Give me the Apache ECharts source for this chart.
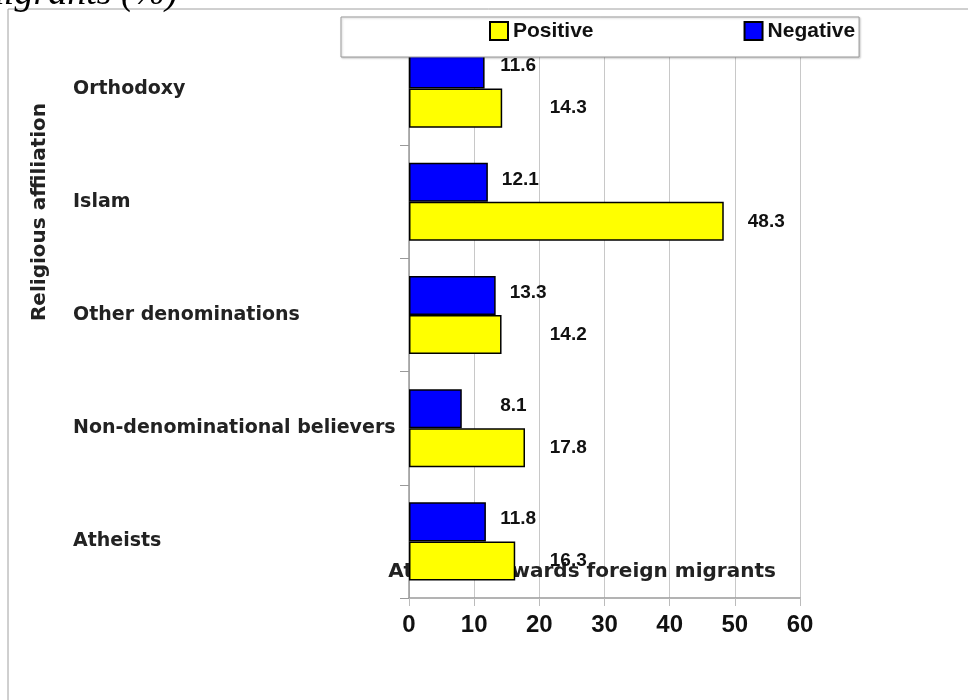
<!DOCTYPE html>
<html>
<head>
    <meta charset="utf-8">
    <title>Religious affiliation</title>
    <script src="https://cdn.jsdelivr.net/npm/echarts@6/dist/echarts.min.js"></script>
    <style>
        html, body { margin: 0; padding: 0; background: #fff; }
    </style>
</head>
<body>
<div id="main" style="width: 968px;height:700px;"></div>
<script type="text/javascript">
    // categories from the axis origin upward (bottom to top in the picture)
    var categories = ['Atheists', 'Non-denominational believers', 'Other denominations', 'Islam', 'Orthodoxy'];
    var positive = [16.3, 17.8, 14.2, 48.3, 14.3];
    var negative = [11.8, 8.1, 13.3, 12.1, 11.6];
    var seriesNames = ['Positive', 'Negative'];
    var xMin = 0, xMax = 60, xStep = 10;

    var sans = '"Liberation Sans", Arial, sans-serif';
    var wide = '"DejaVu Sans", Verdana, sans-serif';

    var myChart = echarts.init(document.getElementById('main'));

    function barLabel(offsetY) {
        return {
            show: true,
            position: 'right',
            offset: [0, offsetY],
            color: '#111',
            fontFamily: sans,
            fontWeight: 'bold',
            fontSize: 19
        };
    }

    var option = {
        animation: false,
        backgroundColor: '#fff',
        grid: {
            left: 409,
            right: 168,
            top: 32,
            bottom: 102
        },
        legend: {
            data: seriesNames,
            left: 341,
            top: 17,
            orient: 'horizontal',
            icon: 'rect',
            itemWidth: 18,
            itemHeight: 18,
            itemGap: 150,
            padding: [3, 4, 15, 148],
            backgroundColor: '#fff',
            borderColor: '#9a9a9a',
            borderWidth: 1,
            shadowColor: 'rgba(0,0,0,0.2)',
            shadowBlur: 2,
            shadowOffsetX: 1,
            shadowOffsetY: 1,
            textStyle: {
                color: '#111',
                fontFamily: sans,
                fontWeight: 'bold',
                fontSize: 21,
                lineHeight: 22
            }
        },
        xAxis: {
            type: 'value',
            min: xMin,
            max: xMax,
            interval: xStep,
            axisLine: { show: true, lineStyle: { color: '#9a9a9a', width: 1.5 } },
            axisTick: { show: true, length: 8, lineStyle: { color: '#bbb' } },
            splitLine: { show: true, lineStyle: { color: '#c8c8c8', width: 1 } },
            axisLabel: {
                margin: 15,
                color: '#111',
                fontFamily: sans,
                fontWeight: 'bold',
                fontSize: 24
            }
        },
        yAxis: {
            type: 'category',
            data: categories,
            axisLine: { show: true, lineStyle: { color: '#9a9a9a', width: 1.5 } },
            axisTick: { show: true, length: 9, lineStyle: { color: '#9a9a9a' } },
            axisLabel: {
                align: 'left',
                margin: 336,
                color: '#222',
                fontFamily: wide,
                fontWeight: 'bold',
                fontSize: 19
            }
        },
        graphic: [
            {
                type: 'rect',
                z: 0,
                shape: { x: 8, y: 9, width: 1200, height: 1000 },
                style: { fill: 'none', stroke: '#a0a0a0', lineWidth: 1 }
            },
            {
                type: 'text',
                z: 1,
                x: 178,
                y: -6,
                style: {
                    text: 'Attitudes towards foreign migrants (%)',
                    font: 'italic 38px "Liberation Serif", "Times New Roman", serif',
                    fill: '#000',
                    textAlign: 'right',
                    textVerticalAlign: 'middle'
                }
            },
            {
                type: 'text',
                z: 1,
                x: 40,
                y: 212,
                rotation: Math.PI / 2,
                style: {
                    text: 'Religious affiliation',
                    font: 'bold 20px "DejaVu Sans", Verdana, sans-serif',
                    fill: '#222',
                    textAlign: 'center',
                    textVerticalAlign: 'middle'
                }
            },
            {
                type: 'text',
                z: 1,
                x: 582,
                y: 572,
                style: {
                    text: 'Attitude towards foreign migrants',
                    font: 'bold 20px "DejaVu Sans", Verdana, sans-serif',
                    fill: '#222',
                    textAlign: 'center',
                    textVerticalAlign: 'middle'
                }
            }
        ],
        // on a y category axis the first series is drawn on top, so Negative goes first
        series: [
            {
                name: seriesNames[1],
                type: 'bar',
                data: negative,
                barGap: '0%',
                barCategoryGap: '31%',
                itemStyle: { color: '#0000ff', borderColor: '#000', borderWidth: 1.5 },
                label: barLabel(-3)
            },
            {
                name: seriesNames[0],
                type: 'bar',
                data: positive,
                barGap: '0%',
                barCategoryGap: '31%',
                itemStyle: { color: '#ffff00', borderColor: '#000', borderWidth: 1.5 },
                label: barLabel(0)
            }
        ]
    };
    myChart.setOption(option);

    // value labels sit a fixed gap past the bar end, but never left of a minimum value
    function placeLabels(values, minValue, gapPx) {
        return values.map(function (v) {
            var end = myChart.convertToPixel({ xAxisIndex: 0 }, v);
            var start = myChart.convertToPixel({ xAxisIndex: 0 }, minValue);
            return { value: v, label: { distance: Math.max(gapPx, start - end) } };
        });
    }
    myChart.setOption({
        series: [
            { data: placeLabels(negative, 14.0, 14) },
            { data: placeLabels(positive, 21.6, 24) }
        ]
    });
</script>
</body>
</html>
